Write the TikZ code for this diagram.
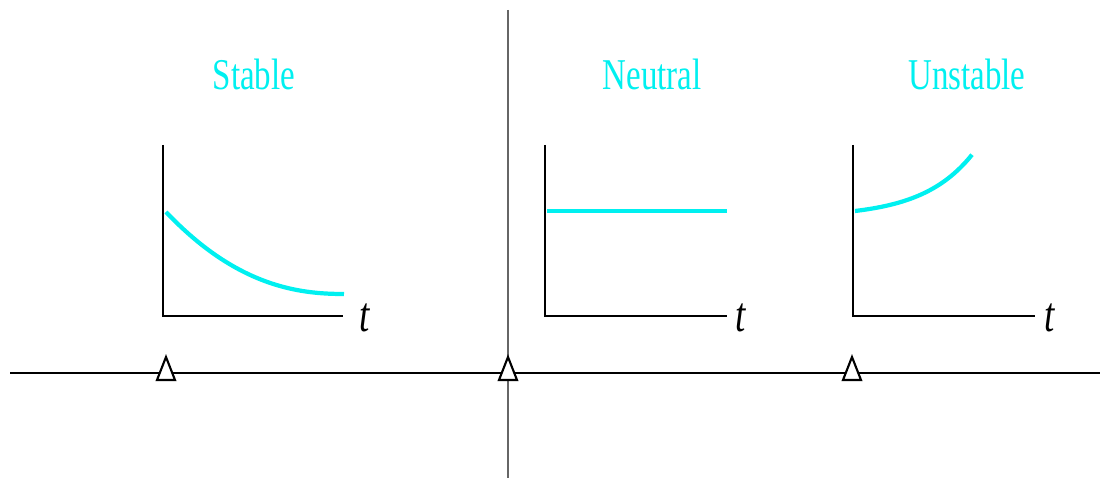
\documentclass[tikz,border=0pt]{standalone}
\usepackage{fontspec}
\setmainfont{Liberation Serif}
\usepackage{xcolor}
\definecolor{eqcyan}{HTML}{00F0F0}
\usepackage{tikz}
\usetikzlibrary{calc}
\newcommand{\narrow}[1]{\scalebox{0.75}[1]{#1}}

\begin{document}
\begin{tikzpicture}[x=0.01cm,y=-0.01cm]
\tikzset{
 title/.style={text=eqcyan,font=\fontsize{12.5}{13}\selectfont,inner sep=0pt},
 tlabel/.style={font=\fontsize{14}{14}\selectfont\itshape,inner sep=0pt},
 axis/.style={draw=black,line width=0.45pt},
 response/.style={draw=eqcyan,line width=1.2pt},
 ground/.style={draw=black,line width=0.6pt},
 pivot/.style={draw=black,fill=white,line width=0.6pt,line join=miter}
}
\useasboundingbox (0,0) rectangle (1102,479);
% ground line and divider
\coordinate (gl) at (10,373);
\coordinate (gr) at (1100,373);
\coordinate (vt) at (508,10);
\coordinate (vb) at (508,478);
\draw[ground] (gl) -- (gr);
\draw[draw=black!60,line width=0.35pt] (vt) -- (vb);
% pivots
\coordinate (p1) at (166,373);
\coordinate (p2) at (508,373);
\coordinate (p3) at (852,373);
\foreach \p in {p1,p2,p3}
 \draw[pivot] (\p) ++(0,-16) -- ++(9,23) -- ++(-18,0) -- cycle;
% titles
\node[title] (stable) at (254,74) {\narrow{Stable}};
\node[title] (neutral) at (652,74) {\narrow{Neutral}};
\node[title] (unstable) at (967,74) {\narrow{Unstable}};
% stable
\coordinate (o1) at (163,316);
\draw[axis] (163,145) -- (o1) -- (343,316);
\node[tlabel] (t1) at (365,318) {\narrow{t}};
\draw[response] plot[domain=166:344,samples=40,smooth] (\x,{294-21.5*pow((345-\x)/100,2.3)});
% neutral
\coordinate (o2) at (545,316);
\draw[axis] (545,145) -- (o2) -- (727,316);
\node[tlabel] (t2) at (741,318) {\narrow{t}};
\draw[response] (547,211) -- (727,211);
% unstable
\coordinate (o3) at (853,316);
\draw[axis] (853,145) -- (o3) -- (1035,316);
\node[tlabel] (t3) at (1050,318) {\narrow{t}};
\draw[response] plot[domain=855:972,samples=40,smooth] (\x,{211-6*(exp((\x-855)/50)-1)});
\end{tikzpicture}
\end{document}
